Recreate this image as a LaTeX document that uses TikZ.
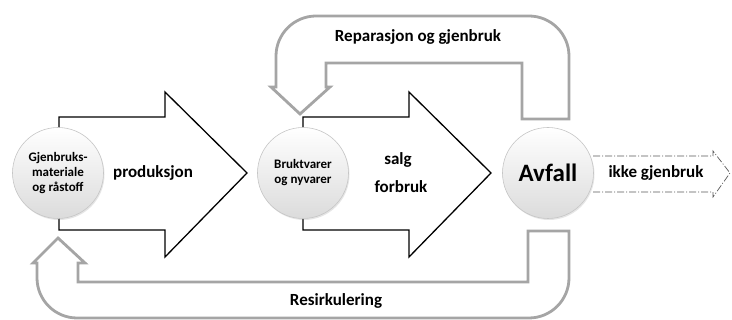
\documentclass[tikz,border=0pt]{standalone}
\usepackage{fontspec}
\setmainfont{Carlito}
\usepackage{tikz}
\usetikzlibrary{shadows}
\definecolor{loopgray}{RGB}{165,165,165}

\begin{document}
\begin{tikzpicture}[x=1pt,y=-1pt,
  ball/.style={circle,draw=gray!45,line width=0.6pt,minimum size=91pt,inner sep=0pt,
    top color=white,bottom color=gray!28,align=center,font=\bfseries\fontsize{13}{15}\selectfont,
    drop shadow={opacity=0.2,shadow xshift=1pt,shadow yshift=-1.5pt}},
  blockarrow/.style={draw=black,line width=1.3pt,fill=white,line join=miter},
  looparrow/.style={draw=loopgray,line width=2.8pt,fill=white,line join=miter},
  word/.style={font=\bfseries\fontsize{17}{19}\selectfont}]
\useasboundingbox (0,0) rectangle (732,320);
% gray loops
\draw[looparrow] (522,119) -- (569,119) -- (569,56) .. controls (569,34) and (551,16) .. (529,16)
  -- (316,16) .. controls (294,16) and (276,34) .. (276,56) -- (276,87) -- (271,87) -- (300,114)
  -- (330,87) -- (326,87) -- (326,63) -- (522,63) -- cycle;
\draw[looparrow] (528,231) -- (569,231) -- (569,278) .. controls (569,300) and (551,318) .. (529,318)
  -- (77,318) .. controls (55,318) and (37,300) .. (37,278) -- (37,263) -- (33,263) -- (58,238)
  -- (85,263) -- (78,263) -- (78,282) -- (528,282) -- cycle;
% big arrows
\draw[blockarrow] (59,117) -- (165,117) -- (165,92) -- (247,173) -- (165,257) -- (165,230) -- (59,230) -- cycle;
\draw[blockarrow] (303,117) -- (409,117) -- (409,92) -- (491,173) -- (409,257) -- (409,230) -- (303,230) -- cycle;
% way out
\draw[black!65,line width=0.7pt,dash pattern=on 7pt off 2pt on 1pt off 2pt]
  (593,156) -- (713,156) -- (713,151) -- (730,173) -- (713,197) -- (713,192) -- (593,192);
\node [ball] (raw) at (58,173) {Gjenbruks-\\materiale\\og råstoff};
\node [ball] (goods) at (303,173) {Bruktvarer\\og nyvarer};
\node [ball,font=\bfseries\fontsize{25}{28}\selectfont] (waste) at (548,173) {Avfall};
\node [word] (prod) at (153,173) {produksjon};
\node [word] (sale) at (398,160) {salg};
\node [word] (use) at (401,187) {forbruk};
\node [word] (repair) at (418,37) {Reparasjon og gjenbruk};
\node [word] (recycle) at (336,301) {Resirkulering};
\node [word] (dump) at (656,173) {ikke gjenbruk};
\end{tikzpicture}
\end{document}
